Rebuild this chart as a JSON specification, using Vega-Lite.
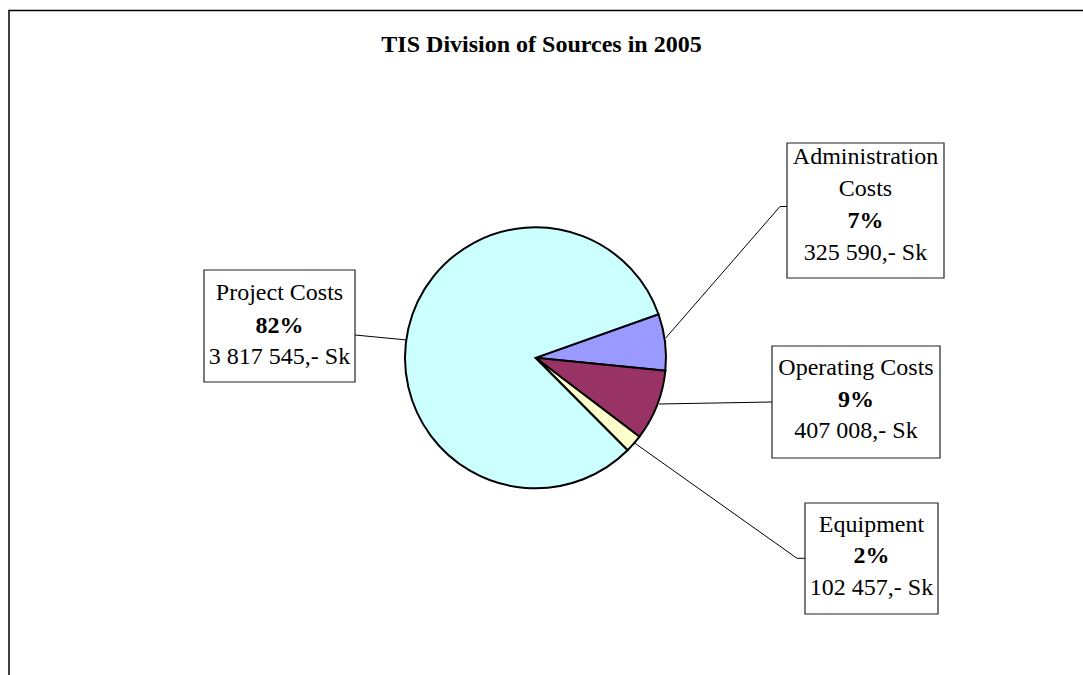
{
  "$schema": "https://vega.github.io/schema/vega-lite/v6.json",
  "width": 1083,
  "height": 675,
  "autosize": "none",
  "padding": 0,
  "background": "white",
  "title": {
    "text": "TIS Division of Sources in 2005",
    "font": "Liberation Serif",
    "fontSize": 24,
    "fontWeight": "bold",
    "color": "black",
    "anchor": "middle",
    "frame": "group",
    "orient": "top",
    "baseline": "alphabetic",
    "offset": -53,
    "dy": 23
  },
  "config": {
    "view": {"stroke": null},
    "text": {"font": "Liberation Serif", "fontSize": 24, "align": "center", "baseline": "alphabetic", "color": "black"}
  },
  "data": {
    "values": [
      {"category": "Administration Costs", "value": 325590, "rank": 1, "pct": "7%", "amount": "325 590,- Sk"},
      {"category": "Operating Costs", "value": 407008, "rank": 2, "pct": "9%", "amount": "407 008,- Sk"},
      {"category": "Equipment", "value": 102457, "rank": 3, "pct": "2%", "amount": "102 457,- Sk"},
      {"category": "Project Costs", "value": 3817545, "rank": 4, "pct": "82%", "amount": "3 817 545,- Sk"}
    ]
  },
  "layer": [
    {
      "transform": [{"filter": "datum.rank === 1"}],
      "mark": {"type": "rect", "x": 9, "y": 10.5, "x2": 1100, "y2": 700, "fill": null, "stroke": "black", "strokeWidth": 1.5}
    },
    {
      "mark": {"type": "arc", "x": 535.5, "y": 357.8, "outerRadius": 130.5, "stroke": "black", "strokeWidth": 2},
      "encoding": {
        "theta": {"field": "value", "type": "quantitative", "stack": true, "scale": {"range": [1.2305, 7.5137]}},
        "color": {
          "field": "category", "type": "nominal", "legend": null,
          "scale": {"domain": ["Administration Costs", "Operating Costs", "Equipment", "Project Costs"], "range": ["#9999FF", "#993366", "#FFFFCC", "#CCFFFF"]}
        },
        "order": {"field": "rank", "type": "quantitative"}
      }
    },
    {
      "transform": [{"filter": "datum.category === 'Project Costs'"}],
      "layer": [
        {"mark": {"type": "rule", "stroke": "black", "strokeWidth": 1}, "encoding": {"x": {"value": 355}, "x2": {"value": 407}, "y": {"value": 335}, "y2": {"value": 340}}},
        {"mark": {"type": "rect", "x": 204, "x2": 355, "y": 270, "y2": 382, "fill": "white", "stroke": "#222", "strokeWidth": 1.2}},
        {"mark": {"type": "text", "x": 279.5, "y": 300}, "encoding": {"text": {"field": "category"}}},
        {"mark": {"type": "text", "x": 279.5, "y": 332.5, "fontWeight": "bold"}, "encoding": {"text": {"field": "pct"}}},
        {"mark": {"type": "text", "x": 279.5, "y": 363.5}, "encoding": {"text": {"field": "amount"}}}
      ]
    },
    {
      "transform": [{"filter": "datum.category === 'Administration Costs'"}],
      "layer": [
        {"mark": {"type": "rule", "stroke": "black", "strokeWidth": 1}, "encoding": {"x": {"value": 665.7}, "x2": {"value": 780}, "y": {"value": 338}, "y2": {"value": 206.5}}},
        {"mark": {"type": "rule", "stroke": "black", "strokeWidth": 1}, "encoding": {"x": {"value": 780}, "x2": {"value": 787}, "y": {"value": 206.5}, "y2": {"value": 206.5}}},
        {"mark": {"type": "rect", "x": 787, "x2": 944, "y": 143, "y2": 278, "fill": "white", "stroke": "#222", "strokeWidth": 1.2}},
        {"mark": {"type": "text", "x": 865.5, "y": 164, "lineBreak": " ", "lineHeight": 31.7}, "encoding": {"text": {"field": "category"}}},
        {"mark": {"type": "text", "x": 865.5, "y": 228.3, "fontWeight": "bold"}, "encoding": {"text": {"field": "pct"}}},
        {"mark": {"type": "text", "x": 865.5, "y": 260}, "encoding": {"text": {"field": "amount"}}}
      ]
    },
    {
      "transform": [{"filter": "datum.category === 'Operating Costs'"}],
      "layer": [
        {"mark": {"type": "rule", "stroke": "black", "strokeWidth": 1}, "encoding": {"x": {"value": 659}, "x2": {"value": 772}, "y": {"value": 404}, "y2": {"value": 402}}},
        {"mark": {"type": "rect", "x": 772, "x2": 940, "y": 346, "y2": 458, "fill": "white", "stroke": "#222", "strokeWidth": 1.2}},
        {"mark": {"type": "text", "x": 856, "y": 375}, "encoding": {"text": {"field": "category"}}},
        {"mark": {"type": "text", "x": 856, "y": 406.7, "fontWeight": "bold"}, "encoding": {"text": {"field": "pct"}}},
        {"mark": {"type": "text", "x": 856, "y": 438.3}, "encoding": {"text": {"field": "amount"}}}
      ]
    },
    {
      "transform": [{"filter": "datum.category === 'Equipment'"}],
      "layer": [
        {"mark": {"type": "rule", "stroke": "black", "strokeWidth": 1}, "encoding": {"x": {"value": 635}, "x2": {"value": 797}, "y": {"value": 443.3}, "y2": {"value": 558.3}}},
        {"mark": {"type": "rule", "stroke": "black", "strokeWidth": 1}, "encoding": {"x": {"value": 797}, "x2": {"value": 805}, "y": {"value": 558.3}, "y2": {"value": 558.3}}},
        {"mark": {"type": "rect", "x": 805, "x2": 938, "y": 503, "y2": 614, "fill": "white", "stroke": "#222", "strokeWidth": 1.2}},
        {"mark": {"type": "text", "x": 871.5, "y": 531.7}, "encoding": {"text": {"field": "category"}}},
        {"mark": {"type": "text", "x": 871.5, "y": 563.3, "fontWeight": "bold"}, "encoding": {"text": {"field": "pct"}}},
        {"mark": {"type": "text", "x": 871.5, "y": 595}, "encoding": {"text": {"field": "amount"}}}
      ]
    }
  ]
}
